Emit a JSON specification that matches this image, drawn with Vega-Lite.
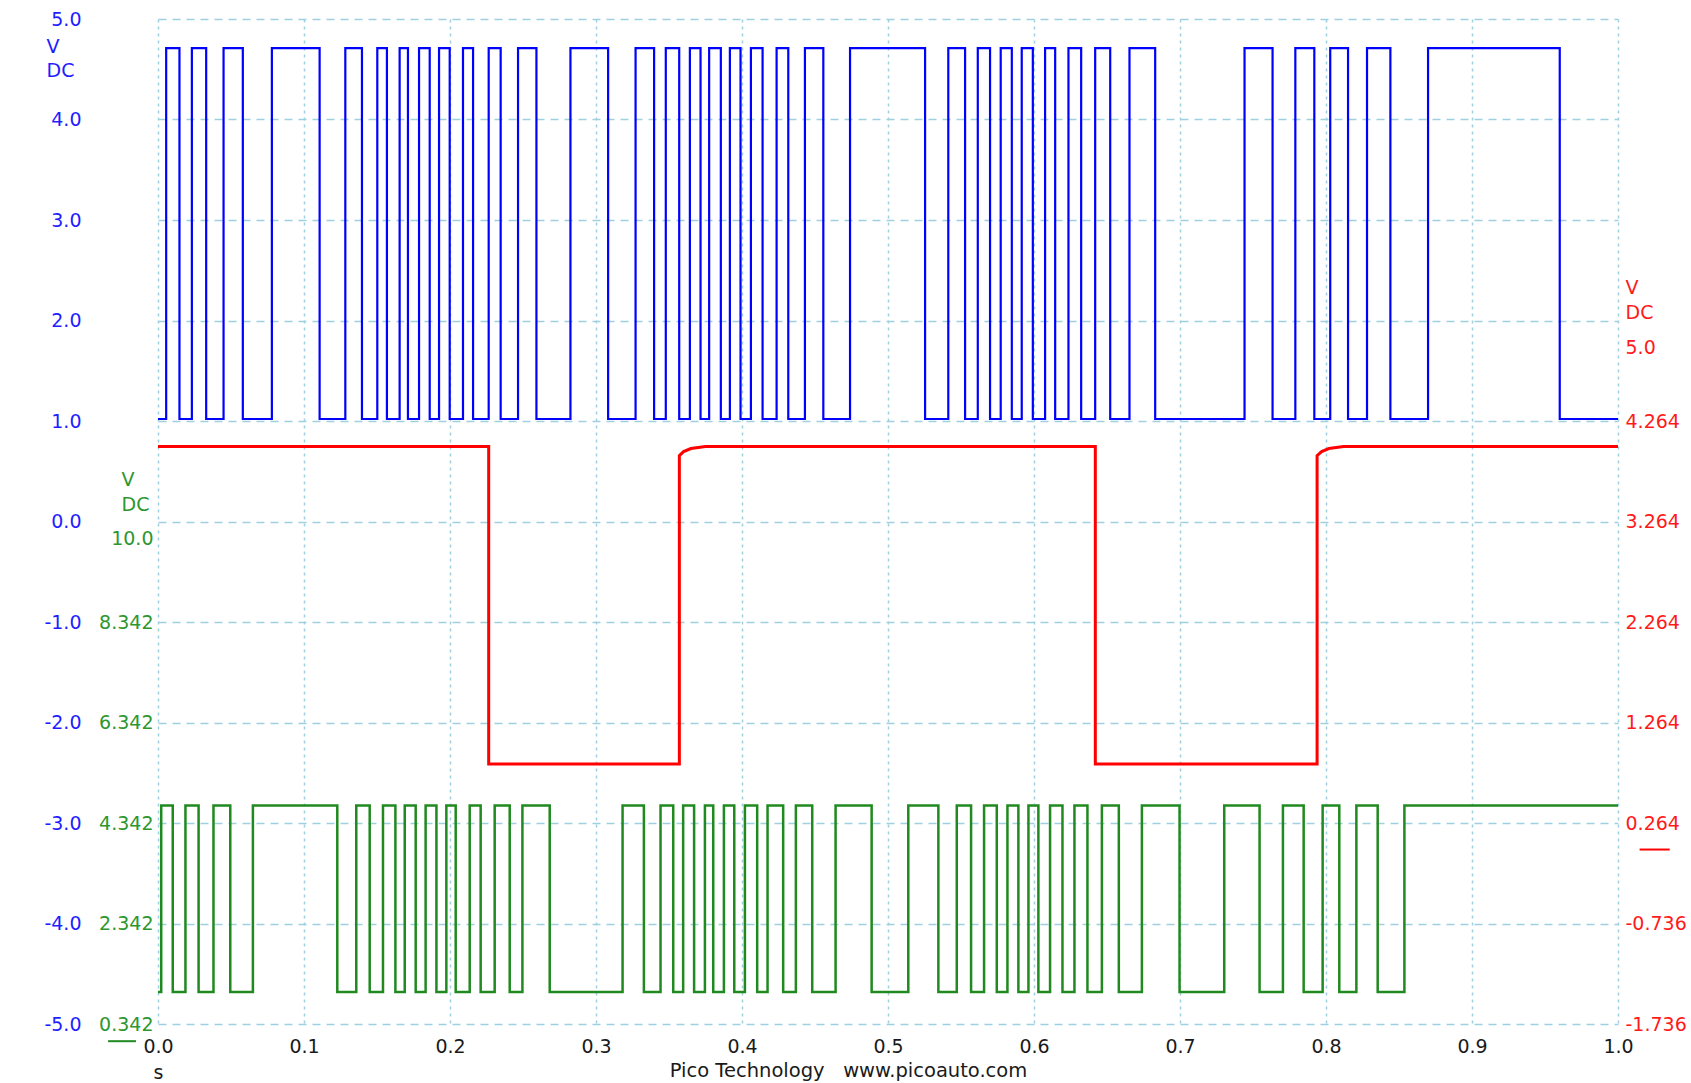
{
  "$schema": "https://vega.github.io/schema/vega-lite/v6.json",
  "width": 1460,
  "height": 1005,
  "autosize": {"type": "none"},
  "padding": {"left": 158, "top": 19, "right": 73, "bottom": 59},
  "background": "white",
  "config": {"view": {"stroke": null}, "font": "DejaVu Sans"},
  "datasets": {
    "blue": [
      {"t": 0, "v": 1.02}, {"t": 0.0056, "v": 4.71}, {"t": 0.0147, "v": 1.02}, {"t": 0.0232, "v": 4.71}, {"t": 0.033, "v": 1.02},
      {"t": 0.0449, "v": 4.71}, {"t": 0.0581, "v": 1.02}, {"t": 0.078, "v": 4.71}, {"t": 0.1107, "v": 1.02}, {"t": 0.1283, "v": 4.71},
      {"t": 0.1397, "v": 1.02}, {"t": 0.1502, "v": 4.71}, {"t": 0.1568, "v": 1.02}, {"t": 0.1655, "v": 4.71}, {"t": 0.1712, "v": 1.02},
      {"t": 0.1788, "v": 4.71}, {"t": 0.1861, "v": 1.02}, {"t": 0.1925, "v": 4.71}, {"t": 0.1998, "v": 1.02}, {"t": 0.2089, "v": 4.71},
      {"t": 0.2158, "v": 1.02}, {"t": 0.2265, "v": 4.71}, {"t": 0.2347, "v": 1.02}, {"t": 0.2466, "v": 4.71}, {"t": 0.2592, "v": 1.02},
      {"t": 0.2825, "v": 4.71}, {"t": 0.3083, "v": 1.02}, {"t": 0.3271, "v": 4.71}, {"t": 0.3398, "v": 1.02}, {"t": 0.3478, "v": 4.71},
      {"t": 0.357, "v": 1.02}, {"t": 0.3643, "v": 4.71}, {"t": 0.3716, "v": 1.02}, {"t": 0.3775, "v": 4.71}, {"t": 0.3855, "v": 1.02},
      {"t": 0.3917, "v": 4.71}, {"t": 0.399, "v": 1.02}, {"t": 0.4061, "v": 4.71}, {"t": 0.4141, "v": 1.02}, {"t": 0.4237, "v": 4.71},
      {"t": 0.4317, "v": 1.02}, {"t": 0.4431, "v": 4.71}, {"t": 0.4557, "v": 1.02}, {"t": 0.474, "v": 4.71}, {"t": 0.5254, "v": 1.02},
      {"t": 0.5413, "v": 4.71}, {"t": 0.5528, "v": 1.02}, {"t": 0.5615, "v": 4.71}, {"t": 0.5699, "v": 1.02}, {"t": 0.5772, "v": 4.71},
      {"t": 0.5848, "v": 1.02}, {"t": 0.5916, "v": 4.71}, {"t": 0.5992, "v": 1.02}, {"t": 0.6076, "v": 4.71}, {"t": 0.6145, "v": 1.02},
      {"t": 0.6236, "v": 4.71}, {"t": 0.6323, "v": 1.02}, {"t": 0.6419, "v": 4.71}, {"t": 0.6522, "v": 1.02}, {"t": 0.6654, "v": 4.71},
      {"t": 0.683, "v": 1.02}, {"t": 0.7442, "v": 4.71}, {"t": 0.7634, "v": 1.02}, {"t": 0.779, "v": 4.71}, {"t": 0.792, "v": 1.02},
      {"t": 0.8029, "v": 4.71}, {"t": 0.8151, "v": 1.02}, {"t": 0.8281, "v": 4.71}, {"t": 0.8441, "v": 1.02}, {"t": 0.8699, "v": 4.71},
      {"t": 0.9601, "v": 1.02}, {"t": 1.0, "v": 1.02}
    ],
    "red": [
      {"t": 0, "v": 4.01}, {"t": 0.2265, "v": 4.01}, {"t": 0.2265, "v": 0.85}, {"t": 0.3571, "v": 0.85},
      {"t": 0.3571, "v": 3.92}, {"t": 0.36, "v": 3.96}, {"t": 0.365, "v": 3.99}, {"t": 0.375, "v": 4.01},
      {"t": 0.642, "v": 4.01}, {"t": 0.642, "v": 0.85}, {"t": 0.7939, "v": 0.85},
      {"t": 0.7939, "v": 3.92}, {"t": 0.797, "v": 3.96}, {"t": 0.802, "v": 3.99}, {"t": 0.812, "v": 4.01},
      {"t": 1.0, "v": 4.01}
    ],
    "green": [
      {"t": 0, "v": 0.98}, {"t": 0.0022, "v": 4.69}, {"t": 0.0101, "v": 0.98}, {"t": 0.0188, "v": 4.69}, {"t": 0.0278, "v": 0.98},
      {"t": 0.038, "v": 4.69}, {"t": 0.0495, "v": 0.98}, {"t": 0.065, "v": 4.69}, {"t": 0.1228, "v": 0.98}, {"t": 0.1358, "v": 4.69},
      {"t": 0.145, "v": 0.98}, {"t": 0.1541, "v": 4.69}, {"t": 0.1626, "v": 0.98}, {"t": 0.169, "v": 4.69}, {"t": 0.1765, "v": 0.98},
      {"t": 0.1833, "v": 4.69}, {"t": 0.1907, "v": 0.98}, {"t": 0.1975, "v": 4.69}, {"t": 0.2039, "v": 0.98}, {"t": 0.2135, "v": 4.69},
      {"t": 0.221, "v": 0.98}, {"t": 0.2306, "v": 4.69}, {"t": 0.2409, "v": 0.98}, {"t": 0.2496, "v": 4.69}, {"t": 0.2683, "v": 0.98},
      {"t": 0.3182, "v": 4.69}, {"t": 0.3328, "v": 0.98}, {"t": 0.3442, "v": 4.69}, {"t": 0.3529, "v": 0.98}, {"t": 0.3597, "v": 4.69},
      {"t": 0.3672, "v": 0.98}, {"t": 0.3746, "v": 4.69}, {"t": 0.3803, "v": 0.98}, {"t": 0.3876, "v": 4.69}, {"t": 0.3947, "v": 0.98},
      {"t": 0.402, "v": 4.69}, {"t": 0.4104, "v": 0.98}, {"t": 0.4175, "v": 4.69}, {"t": 0.4282, "v": 0.98}, {"t": 0.4369, "v": 4.69},
      {"t": 0.4481, "v": 0.98}, {"t": 0.4641, "v": 4.69}, {"t": 0.4888, "v": 0.98}, {"t": 0.5139, "v": 4.69}, {"t": 0.5345, "v": 0.98},
      {"t": 0.5471, "v": 4.69}, {"t": 0.5569, "v": 0.98}, {"t": 0.5658, "v": 4.69}, {"t": 0.5745, "v": 0.98}, {"t": 0.5818, "v": 4.69},
      {"t": 0.5893, "v": 0.98}, {"t": 0.5962, "v": 4.69}, {"t": 0.603, "v": 0.98}, {"t": 0.611, "v": 4.69}, {"t": 0.6195, "v": 0.98},
      {"t": 0.6277, "v": 4.69}, {"t": 0.6366, "v": 0.98}, {"t": 0.6465, "v": 4.69}, {"t": 0.6581, "v": 0.98}, {"t": 0.6739, "v": 4.69},
      {"t": 0.6997, "v": 0.98}, {"t": 0.7303, "v": 4.69}, {"t": 0.7545, "v": 0.98}, {"t": 0.7705, "v": 4.69}, {"t": 0.7847, "v": 0.98},
      {"t": 0.7977, "v": 4.69}, {"t": 0.8091, "v": 0.98}, {"t": 0.8208, "v": 4.69}, {"t": 0.8354, "v": 0.98}, {"t": 0.8537, "v": 4.69},
      {"t": 1.0, "v": 4.69}
    ],
    "redZero": [{"t": 1.0148, "t2": 1.0354, "v": 0}],
    "greenZero": [{"t": -0.0342, "t2": -0.0151, "v": 0}]
  },
  "encoding": {
    "x": {
      "field": "t", "type": "quantitative",
      "scale": {"domain": [0, 1], "nice": false, "zero": false},
      "axis": {
        "values": [0, 0.1, 0.2, 0.3, 0.4, 0.5, 0.6, 0.7, 0.8, 0.9, 1],
        "labelExpr": "datum.value == 0 ? ['0.0', 's'] : format(datum.value, '.1f')",
        "labelFont": "DejaVu Sans", "labelFontSize": 19, "labelColor": "#1a1a1a",
        "labelPadding": 13, "labelLineHeight": 26, "labelFlush": false, "labelOverlap": false, "labelBound": false,
        "ticks": false, "tickSize": 0, "domain": false,
        "grid": true, "gridColor": "#9fd0e0", "gridDash": [3, 4], "gridWidth": 1.5,
        "title": "Pico Technology\u00a0\u00a0\u00a0www.picoauto.com",
        "titleFont": "DejaVu Sans", "titleFontSize": 19.5, "titleFontWeight": "normal", "titleColor": "#1a1a1a",
        "titleX": 690, "titleY": 37, "titleBaseline": "top", "titleAlign": "center"
      }
    }
  },
  "layer": [
    {
      "data": {"name": "blue"},
      "mark": {"type": "line", "interpolate": "step-after", "color": "#0000ff", "strokeWidth": 2.2},
      "encoding": {
        "y": {
          "field": "v", "type": "quantitative",
          "scale": {"domain": [-5, 5], "nice": false, "zero": false},
          "axis": {
            "orient": "left",
            "values": [-5, -4, -3, -2, -1, 0, 1, 2, 3, 4, 5],
            "labelExpr": "replace(format(datum.value, '.1f'), '\u2212', '-')",
            "labelFont": "DejaVu Sans", "labelFontSize": 19, "labelColor": "#1e1eff",
            "labelPadding": 77, "labelOverlap": false, "labelFlush": false,
            "ticks": false, "tickSize": 0, "domain": false,
            "grid": true, "gridColor": "#9fd0e0", "gridDash": [8, 6], "gridWidth": 1.5,
            "title": ["V", "DC"],
            "titleFont": "DejaVu Sans", "titleFontSize": 19, "titleFontWeight": "normal", "titleColor": "#1e1eff",
            "titleAngle": 0, "titleAlign": "left", "titleBaseline": "top",
            "titleX": -112, "titleY": 18, "titleLineHeight": 24
          }
        }
      }
    },
    {
      "data": {"name": "red"},
      "mark": {"type": "line", "interpolate": "linear", "color": "#ff0000", "strokeWidth": 3},
      "encoding": {
        "y": {
          "field": "v", "type": "quantitative",
          "scale": {"domain": [-1.736, 8.264], "nice": false, "zero": false},
          "axis": {
            "orient": "right",
            "values": [5, 4.264, 3.264, 2.264, 1.264, 0.264, -0.736, -1.736],
            "labelExpr": "datum.value == 5 ? '5.0' : replace(format(datum.value, '.3f'), '\u2212', '-')",
            "labelFont": "DejaVu Sans", "labelFontSize": 19, "labelColor": "#ff1a1a",
            "labelPadding": 7, "labelOverlap": false, "labelFlush": false,
            "ticks": false, "tickSize": 0, "domain": false, "grid": false,
            "title": ["V", "DC"],
            "titleFont": "DejaVu Sans", "titleFontSize": 19, "titleFontWeight": "normal", "titleColor": "#ff1a1a",
            "titleAngle": 0, "titleAlign": "left", "titleBaseline": "top",
            "titleX": 7, "titleY": 259, "titleLineHeight": 25
          }
        }
      }
    },
    {
      "data": {"name": "green"},
      "mark": {"type": "line", "interpolate": "step-after", "color": "#208a20", "strokeWidth": 2.5},
      "encoding": {
        "y": {
          "field": "v", "type": "quantitative",
          "scale": {"domain": [0.342, 20.342], "nice": false, "zero": false},
          "axis": {
            "orient": "left",
            "values": [0.342, 2.342, 4.342, 6.342, 8.342, 10],
            "labelExpr": "datum.value == 10 ? '10.0' : format(datum.value, '.3f')",
            "labelFont": "DejaVu Sans", "labelFontSize": 19, "labelColor": "#2e962e",
            "labelPadding": 5, "labelOverlap": false, "labelFlush": false,
            "ticks": false, "tickSize": 0, "domain": false, "grid": false,
            "title": ["V", "DC"],
            "titleFont": "DejaVu Sans", "titleFontSize": 19, "titleFontWeight": "normal", "titleColor": "#2e962e",
            "titleAngle": 0, "titleAlign": "left", "titleBaseline": "top",
            "titleX": -37, "titleY": 451, "titleLineHeight": 25
          }
        }
      }
    },
    {
      "data": {"name": "redZero"},
      "mark": {"type": "rule", "color": "#ff0000", "strokeWidth": 2},
      "encoding": {
        "x2": {"field": "t2"},
        "y": {"field": "v", "type": "quantitative", "scale": {"domain": [-1.736, 8.264], "nice": false, "zero": false}, "axis": null}
      }
    },
    {
      "data": {"name": "greenZero"},
      "mark": {"type": "rule", "color": "#208a20", "strokeWidth": 2},
      "encoding": {
        "x2": {"field": "t2"},
        "y": {"field": "v", "type": "quantitative", "scale": {"domain": [0.342, 20.342], "nice": false, "zero": false}, "axis": null}
      }
    }
  ],
  "resolve": {"scale": {"y": "independent"}}
}
